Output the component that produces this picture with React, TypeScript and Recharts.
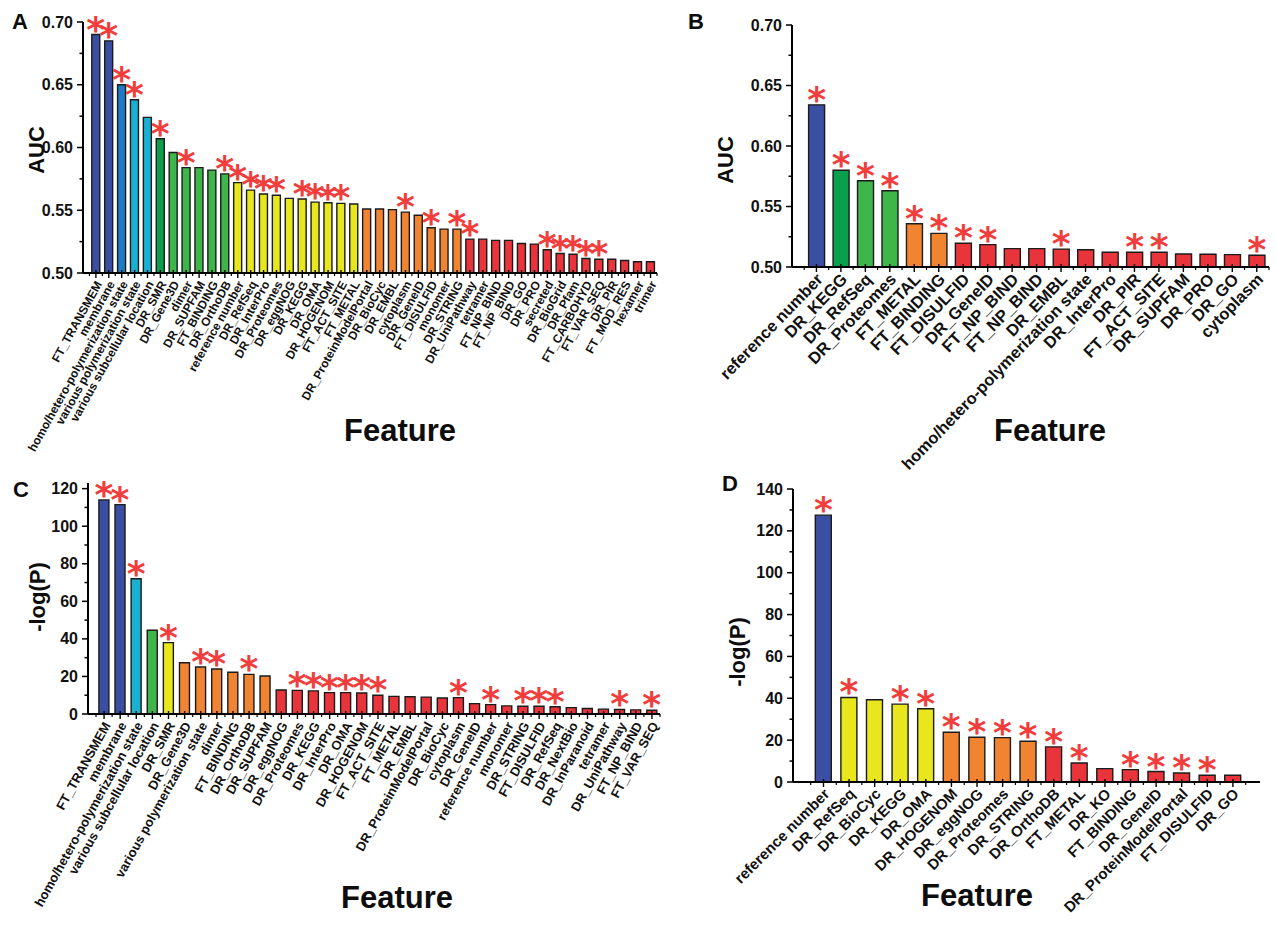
import React from "react";
import { BarChart, Bar, XAxis, YAxis, Cell, LabelList } from "recharts";

const FONT = '"Liberation Sans", Arial, Helvetica, sans-serif';

// tier code -> fill
const PALETTE: Record<string, string> = {
  N: "#3a4ea2",
  B: "#1d7bc4",
  C: "#19b1d2",
  G: "#0b9f4b",
  g: "#3eb64a",
  Y: "#e8e61c",
  O: "#f08430",
  R: "#e9343b",
};

// ---- panel A: AUC, all features
const A_FEATURES = [
  "FT_TRANSMEM", "membrane", "homo/hetero-polymerization state", "various polymerization state",
  "various subcellular location", "DR_SMR", "DR_Gene3D", "dimer", "DR_SUPFAM", "FT_BINDING",
  "DR_OrthoDB", "reference number", "DR_RefSeq", "DR_InterPro", "DR_Proteomes", "DR_eggNOG",
  "DR_KEGG", "DR_OMA", "DR_HOGENOM", "FT_ACT_SITE", "FT_METAL", "DR_ProteinModelPortal",
  "DR_BioCyc", "DR_EMBL", "cytoplasm", "DR_GeneID", "FT_DISULFID", "monomer", "DR_STRING",
  "DR_UniPathway", "tetramer", "FT_NP_BIND", "FT_NP_BIND", "DR_GO", "DR_PRO", "secreted",
  "DR_BioGrid", "DR_Pfam", "FT_CARBOHYD", "FT_VAR_SEQ", "DR_PIR", "FT_MOD_RES", "hexamer", "trimer",
];
const A_AUC = [
  0.690, 0.685, 0.650, 0.638, 0.624, 0.607, 0.596, 0.584, 0.584, 0.582,
  0.579, 0.572, 0.566, 0.563, 0.562, 0.5595, 0.559, 0.5565, 0.556, 0.5555,
  0.555, 0.551, 0.551, 0.5505, 0.5485, 0.546, 0.536, 0.535, 0.535, 0.527,
  0.527, 0.526, 0.526, 0.5235, 0.523, 0.5185, 0.5155, 0.515, 0.5115, 0.511,
  0.511, 0.510, 0.509, 0.509,
];
const A_SIG = [
  1, 1, 1, 1, 0, 1, 0, 1, 0, 0, 1, 1, 1, 1, 1, 0, 1, 1, 1, 1, 0, 0,
  0, 0, 1, 0, 1, 0, 1, 1, 0, 0, 0, 0, 0, 1, 1, 1, 1, 1, 0, 0, 0, 0,
];
const A_TIER = "NNBCCGgggggYYYYYYYYYYOOOOOOOORRRRRRRRRRRRRRR".split("");

// ---- panel B: AUC, selected features
const B_FEATURES = [
  "reference number", "DR_KEGG", "DR_RefSeq", "DR_Proteomes", "FT_METAL", "FT_BINDING",
  "FT_DISULFID", "DR_GeneID", "FT_NP_BIND", "FT_NP_BIND", "DR_EMBL",
  "homo/hetero-polymerization state", "DR_InterPro", "DR_PIR", "FT_ACT_SITE", "DR_SUPFAM",
  "DR_PRO", "DR_GO", "cytoplasm",
];
const B_AUC = [
  0.634, 0.580, 0.5713, 0.563, 0.5358, 0.5278, 0.5196, 0.5185, 0.5152, 0.5152,
  0.5148, 0.5143, 0.5122, 0.5122, 0.5122, 0.5108, 0.5105, 0.5102, 0.5097,
];
const B_SIG = [1, 1, 1, 1, 1, 1, 1, 1, 0, 0, 1, 0, 0, 1, 1, 0, 0, 0, 1];
const B_TIER = "NGggOORRRRRRRRRRRRR".split("");

// ---- panel C: -log(P), all features
const C_FEATURES = [
  "FT_TRANSMEM", "membrane", "homo/hetero-polymerization state", "various subcellular location",
  "DR_SMR", "DR_Gene3D", "various polymerization state", "dimer", "FT_BINDING", "DR_OrthoDB",
  "DR_SUPFAM", "DR_eggNOG", "DR_Proteomes", "DR_KEGG", "DR_InterPro", "DR_OMA", "DR_HOGENOM",
  "FT_ACT_SITE", "FT_METAL", "DR_EMBL", "DR_ProteinModelPortal", "DR_BioCyc", "cytoplasm",
  "DR_GeneID", "reference number", "monomer", "DR_STRING", "FT_DISULFID", "DR_RefSeq",
  "DR_NextBio", "DR_InParanoid", "tetramer", "DR_UniPathway", "FT_NP_BIND", "FT_VAR_SEQ",
];
const C_LOGP = [
  114, 111.5, 72, 44.6, 38, 27.3, 25, 24, 22.2, 21.1,
  20.2, 12.8, 12.6, 12.3, 11.4, 11.4, 11.2, 10, 9.4, 9.2,
  9, 8.5, 8.7, 5.5, 5, 4.3, 4.1, 4.1, 3.9, 3.4,
  2.9, 2.6, 2.4, 2.2, 2.0,
];
const C_SIG = [
  1, 1, 1, 0, 1, 0, 1, 1, 0, 1, 0, 0, 1, 1, 1, 1, 1, 1,
  0, 0, 0, 0, 1, 0, 1, 0, 1, 1, 1, 0, 0, 0, 1, 0, 1,
];
const C_TIER = "NNCgYOOOOOORRRRRRRRRRRRRRRRRRRRRRRR".split("");

// ---- panel D: -log(P), selected features
const D_FEATURES = [
  "reference number", "DR_RefSeq", "DR_BioCyc", "DR_KEGG", "DR_OMA", "DR_HOGENOM", "DR_eggNOG",
  "DR_Proteomes", "DR_STRING", "DR_OrthoDB", "FT_METAL", "DR_KO", "FT_BINDING", "DR_GeneID",
  "DR_ProteinModelPortal", "FT_DISULFID", "DR_GO",
];
const D_LOGP = [127.5, 40.4, 39.3, 37.2, 35, 23.8, 21.4, 21.2, 19.5, 16.8, 9.1, 6.4, 5.9, 5, 4.3, 3.2, 3.2];
const D_SIG = [1, 1, 0, 1, 1, 1, 1, 1, 1, 1, 1, 0, 1, 1, 1, 1, 0];
const D_TIER = "NYYYYOOOORRRRRRRR".split("");

const AUC_TICKS = [0.5, 0.525, 0.55, 0.575, 0.6, 0.625, 0.65, 0.675, 0.7];
const C_TICKS = [0, 10, 20, 30, 40, 50, 60, 70, 80, 90, 100, 110, 120];
const D_TICKS = [0, 10, 20, 30, 40, 50, 60, 70, 80, 90, 100, 110, 120, 130, 140];

function StarLabel(props: any) {
  const vb = props.viewBox || props;
  const x = vb.x ?? props.x;
  const y = vb.y ?? props.y;
  const w = vb.width ?? props.width;
  if (!props.value) return null;
  return (
    <text
      x={x + w / 2}
      y={y + 7}
      textAnchor="middle"
      fill="#f23d3d"
      fontSize={36}
      fontWeight="bold"
      fontFamily='"DejaVu Sans", sans-serif'
    >
      *
    </text>
  );
}

interface PanelProps {
  names: string[];
  values: number[];
  sig: number[];
  tiers: string[];
  left: number;
  top: number;
  width: number;
  height: number;
  margin: { top: number; right: number; left: number; bottom: number };
  yWidth: number;
  xHeight: number;
  domain: [number, number];
  ticks: number[];
  isMajor: (v: number) => boolean;
  fmt: (v: number) => string;
  angle: number;
  tickFont: number;
  padLeft: number;
  padRight: number;
}

function Panel(p: PanelProps) {
  const data = p.names.map((_, i) => ({ idx: i, value: p.values[i], star: p.sig[i] }));
  const plotW = p.width - p.yWidth - p.margin.right - p.margin.left;
  const band = (plotW - p.padLeft - p.padRight) / p.names.length;

  const xTick = (t: any) => {
    const { x, y, payload } = t;
    return (
      <g>
        <line x1={x} x2={x} y1={y - 3} y2={y + 5} stroke="#000" strokeWidth={1.4} />
        <line x1={x + band / 2} x2={x + band / 2} y1={y} y2={y + 3} stroke="#000" strokeWidth={1.2} />
        {payload.value === 0 && (
          <line x1={x - band / 2} x2={x - band / 2} y1={y} y2={y + 3} stroke="#000" strokeWidth={1.2} />
        )}
        <text
          transform={`translate(${x + 3},${y + 9}) rotate(${p.angle})`}
          textAnchor="end"
          dominantBaseline="central"
          fontSize={p.tickFont}
          fontWeight="bold"
          fontFamily={FONT}
          fill="#111"
        >
          {p.names[payload.value]}
        </text>
      </g>
    );
  };

  const yTick = (t: any) => {
    const { x, y, payload } = t;
    const major = p.isMajor(payload.value);
    return (
      <g>
        <line x1={x} x2={x - (major ? 6 : 3.5)} y1={y} y2={y} stroke="#000" strokeWidth={1.5} />
        {major && (
          <text
            x={x - 10}
            y={y}
            textAnchor="end"
            dominantBaseline="central"
            fontSize={16}
            fontWeight="bold"
            fontFamily={FONT}
            fill="#111"
          >
            {p.fmt(payload.value)}
          </text>
        )}
      </g>
    );
  };

  return (
    <div style={{ position: "absolute", left: p.left, top: p.top }}>
      <BarChart width={p.width} height={p.height} data={data} margin={p.margin} barCategoryGap="18%">
        <XAxis
          dataKey="idx"
          type="category"
          interval={0}
          height={p.xHeight}
          tickSize={0}
          tickMargin={0}
          tickLine={false}
          axisLine={{ stroke: "#000", strokeWidth: 2 }}
          padding={{ left: p.padLeft, right: p.padRight }}
          tick={xTick}
        />
        <XAxis
          xAxisId="top"
          orientation="top"
          dataKey="idx"
          type="category"
          height={0}
          tick={false}
          tickLine={false}
          axisLine={{ stroke: "#000", strokeWidth: 2 }}
        />
        <YAxis
          type="number"
          domain={p.domain}
          ticks={p.ticks}
          interval={0}
          width={p.yWidth}
          tickSize={0}
          tickMargin={0}
          tickLine={false}
          allowDataOverflow
          axisLine={{ stroke: "#000", strokeWidth: 2 }}
          tick={yTick}
        />
        <YAxis
          yAxisId="right"
          orientation="right"
          type="number"
          domain={p.domain}
          width={0}
          tick={false}
          tickLine={false}
          axisLine={{ stroke: "#000", strokeWidth: 2 }}
        />
        <Bar dataKey="value" stroke="#1b1b1b" strokeWidth={1.4} isAnimationActive={false}>
          {data.map((d) => (
            <Cell key={d.idx} fill={PALETTE[p.tiers[d.idx]]} />
          ))}
          <LabelList dataKey="star" content={StarLabel} />
        </Bar>
      </BarChart>
    </div>
  );
}

const textBase: React.CSSProperties = {
  position: "absolute",
  fontFamily: FONT,
  fontWeight: "bold",
  whiteSpace: "nowrap",
  lineHeight: 1,
  color: "#0d0d0d",
};

function Title({ x, y, size, text, vertical }: { x: number; y: number; size: number; text: string; vertical?: boolean }) {
  return (
    <div
      style={{
        ...textBase,
        left: x,
        top: y,
        fontSize: size,
        transform: vertical ? "translate(-50%,-50%) rotate(-90deg)" : "translate(-50%,-50%)",
      }}
    >
      {text}
    </div>
  );
}

const aucMajor = (v: number) => Math.round(v * 1000) % 50 === 0;
const aucFmt = (v: number) => v.toFixed(2);
const logMajor = (v: number) => v % 20 === 0;
const logFmt = (v: number) => String(v);

export default function App() {
  return (
    <div style={{ position: "absolute", left: 0, top: 0, width: 1276, height: 925, background: "#fff", overflow: "hidden" }}>
      <Panel
        names={C_FEATURES} values={C_LOGP} sig={C_SIG} tiers={C_TIER}
        left={0} top={465} width={668} height={460}
        margin={{ top: 18, right: 8, left: 0, bottom: 0 }}
        yWidth={88} xHeight={211}
        domain={[0, 123]} ticks={C_TICKS} isMajor={logMajor} fmt={logFmt}
        angle={-61} tickFont={13} padLeft={8} padRight={0}
      />
      <Panel
        names={D_FEATURES} values={D_LOGP} sig={D_SIG} tiers={D_TIER}
        left={700} top={465} width={576} height={460}
        margin={{ top: 24, right: 16, left: 0, bottom: 0 }}
        yWidth={93} xHeight={143}
        domain={[0, 140]} ticks={D_TICKS} isMajor={logMajor} fmt={logFmt}
        angle={-45} tickFont={15} padLeft={17.7} padRight={14.3}
      />
      <Panel
        names={A_FEATURES} values={A_AUC} sig={A_SIG} tiers={A_TIER}
        left={0} top={0} width={665} height={470}
        margin={{ top: 22, right: 8, left: 0, bottom: 0 }}
        yWidth={83} xHeight={197}
        domain={[0.5, 0.7]} ticks={AUC_TICKS} isMajor={aucMajor} fmt={aucFmt}
        angle={-61} tickFont={12} padLeft={6.45} padRight={0}
      />
      <Panel
        names={B_FEATURES} values={B_AUC} sig={B_SIG} tiers={B_TIER}
        left={700} top={0} width={576} height={484}
        margin={{ top: 25, right: 7, left: 0, bottom: 0 }}
        yWidth={92} xHeight={217}
        domain={[0.5, 0.7]} ticks={AUC_TICKS} isMajor={aucMajor} fmt={aucFmt}
        angle={-46} tickFont={16.5} padLeft={12.2} padRight={0}
      />

      <Title x={20} y={22} size={22} text="A" />
      <Title x={696} y={22} size={22} text="B" />
      <Title x={21} y={490} size={22} text="C" />
      <Title x={730} y={484} size={22} text="D" />

      <Title x={37} y={150} size={22} text="AUC" vertical />
      <Title x={726} y={160} size={22} text="AUC" vertical />
      <Title x={38} y={597} size={22} text="-log(P)" vertical />
      <Title x={738} y={652} size={22} text="-log(P)" vertical />

      <Title x={400} y={430} size={31} text="Feature" />
      <Title x={1050} y={430} size={31} text="Feature" />
      <Title x={397} y={897} size={31} text="Feature" />
      <Title x={977} y={895} size={31} text="Feature" />
    </div>
  );
}
